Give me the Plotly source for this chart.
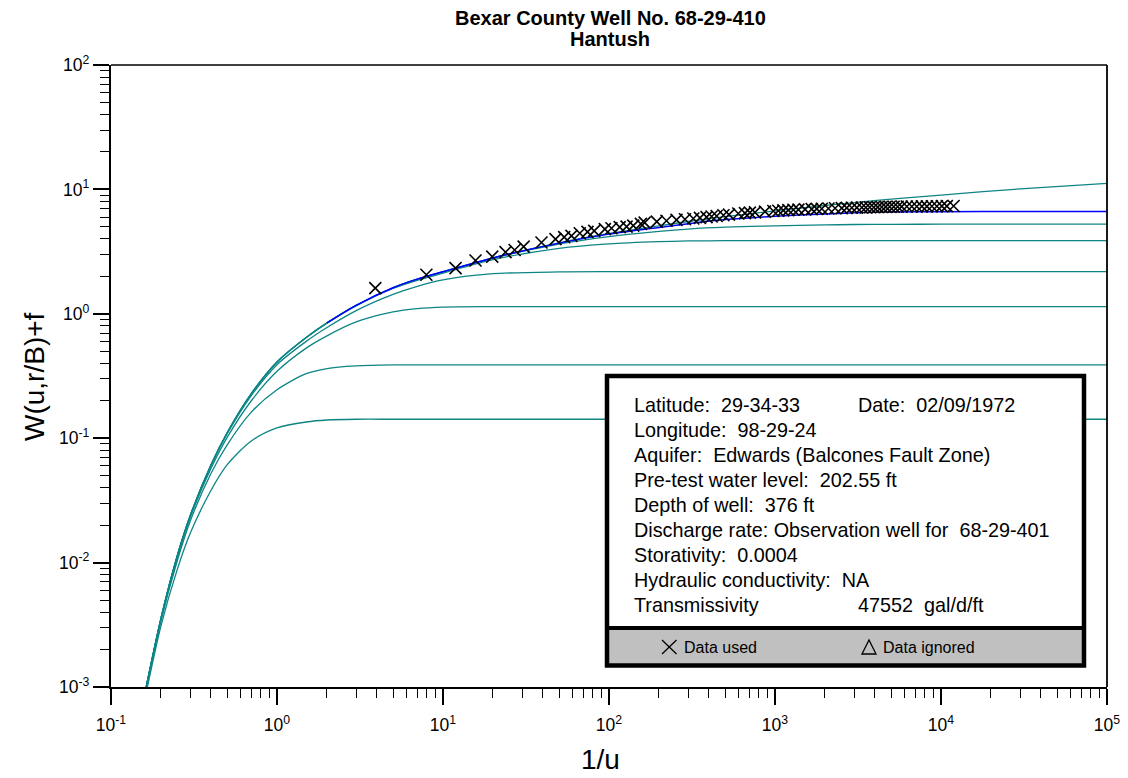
import plotly.graph_objects as go

# ---------------- data ----------------
X_GRID = [0.163, 0.2, 0.25, 0.3, 0.4, 0.5, 0.7, 1, 1.5, 2, 3, 5, 7, 10, 20, 50, 100, 200,
          300, 500, 1000, 2000, 3000, 5000, 10000, 30000, 100000]

W_THEIS = [0.001, 0.00356, 0.0112, 0.0238, 0.061, 0.11, 0.228, 0.41, 0.645, 0.845, 1.17, 1.62, 1.9,
           2.18, 2.82, 3.72, 4.42, 5.1, 5.52, 6.03, 6.72, 7.42, 7.83, 8.35, 9.0, 10.1, 11.2]
W_RB_B = [0.001, 0.00356, 0.0112, 0.0238, 0.061, 0.11, 0.228, 0.41, 0.645, 0.845, 1.17, 1.62, 1.9,
          2.17, 2.8, 3.64, 4.18, 4.6, 4.8, 4.97, 5.1, 5.18, 5.22, 5.24, 5.25, 5.25, 5.25]
W_RB_C = [0.001, 0.00356, 0.0112, 0.0238, 0.061, 0.11, 0.228, 0.41, 0.645, 0.84, 1.16, 1.6, 1.86,
          2.12, 2.72, 3.36, 3.65, 3.8, 3.85, 3.87, 3.88, 3.88, 3.88, 3.88, 3.88, 3.88, 3.88]
W_RB_D = [0.001, 0.00355, 0.0111, 0.0236, 0.06, 0.108, 0.22, 0.39, 0.6, 0.775, 1.06, 1.43, 1.66,
          1.87, 2.1, 2.17, 2.18, 2.18, 2.18, 2.18, 2.18, 2.18, 2.18, 2.18, 2.18, 2.18, 2.18]
W_RB_E = [0.001, 0.0035, 0.0108, 0.023, 0.057, 0.101, 0.2, 0.345, 0.53, 0.665, 0.86, 1.035, 1.1,
          1.133, 1.143, 1.143, 1.143, 1.143, 1.143, 1.143, 1.143, 1.143, 1.143, 1.143, 1.143, 1.143, 1.143]
W_RB_F = [0.00095, 0.0034, 0.0102, 0.0215, 0.052, 0.088, 0.162, 0.245, 0.33, 0.363, 0.381, 0.388, 0.389,
          0.389, 0.389, 0.389, 0.389, 0.389, 0.389, 0.389, 0.389, 0.389, 0.389, 0.389, 0.389, 0.389, 0.389]
W_RB_G = [0.0009, 0.0031, 0.0087, 0.0172, 0.038, 0.061, 0.095, 0.121, 0.135, 0.14, 0.142, 0.142, 0.142,
          0.142, 0.142, 0.142, 0.142, 0.142, 0.142, 0.142, 0.142, 0.142, 0.142, 0.142, 0.142, 0.142, 0.142]

# match curve (blue), drawn from 1/u = 2 onward
X_MATCH = [2, 3, 5, 7, 10, 20, 50, 100, 200, 300, 500, 1000, 2000, 3000, 5000, 10000, 30000, 100000]
W_MATCH = [0.845, 1.17, 1.62, 1.9, 2.18, 2.81, 3.7, 4.37, 4.95, 5.3, 5.72, 6.08, 6.35, 6.48, 6.58,
           6.62, 6.63, 6.63]

DATA_X = [3.91, 7.94, 11.9, 15.7, 19.8, 23.8, 27.0, 30.6, 39.2, 47.6, 53.7, 59.4, 66.7, 74.2, 81.5,
          94.4, 103.5, 116, 127.6, 140, 155.6,
          164, 194, 222, 255, 287, 322, 353, 387, 415, 445, 489, 528, 601, 659, 706, 757, 870, 977,
          1047, 1122, 1204, 1291, 1384, 1517, 1664, 1783, 1914, 2099, 2301, 2524, 2706, 2902, 3111,
          3334, 3524, 3724, 3936, 4159, 4396, 4645, 4909, 5188, 5483, 5794, 6222, 6669, 7146, 7669,
          8222, 8811, 9441, 10116, 10839, 11912]
DATA_W = [1.61, 2.06, 2.33, 2.68, 2.88, 3.13, 3.26, 3.47, 3.74, 3.98, 4.13, 4.23, 4.44, 4.55, 4.64,
          4.79, 4.87, 4.97, 5.02, 5.12, 5.28,
          5.41, 5.51, 5.60, 5.69, 5.76, 5.84, 5.90, 5.98, 6.05, 6.11, 6.20, 6.27, 6.40, 6.45, 6.50,
          6.54, 6.62, 6.70, 6.74, 6.78, 6.82, 6.86, 6.88, 6.91, 6.94, 6.97, 6.99, 7.02, 7.05, 7.08,
          7.10, 7.12, 7.13, 7.15, 7.16, 7.18, 7.19, 7.20, 7.22, 7.23, 7.25, 7.25, 7.26, 7.27, 7.28,
          7.28, 7.29, 7.30, 7.31, 7.32, 7.32, 7.33, 7.34, 7.35]

X_TICKS = [0.1, 1, 10, 100, 1000, 10000, 100000]
X_TICK_TEXT = ["10<sup>-1</sup>", "10<sup>0</sup>", "10<sup>1</sup>", "10<sup>2</sup>",
               "10<sup>3</sup>", "10<sup>4</sup>", "10<sup>5</sup>"]
Y_TICKS = [0.001, 0.01, 0.1, 1, 10, 100]
Y_TICK_TEXT = ["10<sup>-3</sup>", "10<sup>-2</sup>", "10<sup>-1</sup>", "10<sup>0</sup>",
               "10<sup>1</sup>", "10<sup>2</sup>"]

TITLE_1 = "Bexar County Well No. 68-29-410"
TITLE_2 = "Hantush"
X_TITLE = "1/u"
Y_TITLE = "W(u,r/B)+f"
INFO_LEFT = ["Latitude:  29-34-33", "Longitude:  98-29-24", "Aquifer:  Edwards (Balcones Fault Zone)",
             "Pre-test water level:  202.55 ft", "Depth of well:  376 ft",
             "Discharge rate: Observation well for  68-29-401", "Storativity:  0.0004",
             "Hydraulic conductivity:  NA", "Transmissivity"]
INFO_DATE = "Date:  02/09/1972"
INFO_T = "47552  gal/d/ft"
LEG_USED = "Data used"
LEG_IGN = "Data ignored"

# ---------------- layout geometry (pixels) ----------------
W, H = 1128, 778
L, R, T, B = 111, 21, 65, 91
PX0, PX1, PY0, PY1 = L, W - R, T, H - B
FONT = "Arial, Liberation Sans, sans-serif"


def fx(x):
    return (x - PX0) / (PX1 - PX0)


def fy(y):
    return (PY1 - y) / (PY1 - PY0)


TEAL = "#0e8585"
BLUE = "#0000ff"

fig = go.Figure()
for vals in [W_THEIS, W_RB_B, W_RB_C, W_RB_D, W_RB_E, W_RB_F, W_RB_G]:
    fig.add_trace(go.Scatter(x=X_GRID, y=vals, mode="lines",
                             line=dict(color=TEAL, width=1.3, shape="spline", smoothing=0.8),
                             showlegend=False, hoverinfo="skip"))
fig.add_trace(go.Scatter(x=X_MATCH, y=W_MATCH, mode="lines",
                         line=dict(color=BLUE, width=1.5, shape="spline", smoothing=0.8),
                         showlegend=False, hoverinfo="skip"))
fig.add_trace(go.Scatter(x=DATA_X, y=DATA_W, mode="markers",
                         marker=dict(symbol="x-thin", size=12, color="black",
                                     line=dict(width=1.6, color="black")),
                         showlegend=False))

minor_x = [m * 10 ** e for e in range(-1, 5) for m in range(2, 10)]
minor_y = [m * 10 ** e for e in range(-3, 2) for m in range(2, 10)]

fig.update_xaxes(type="log", range=[-1, 5], tickmode="array", tickvals=X_TICKS, ticktext=X_TICK_TEXT,
                 ticks="outside", ticklen=16, tickwidth=2, tickcolor="black", ticklabelstandoff=5,
                 minor=dict(tickmode="array", tickvals=minor_x, ticks="outside", ticklen=9,
                            tickwidth=1.3, tickcolor="black", showgrid=False),
                 showline=True, linewidth=2.2, linecolor="black", showgrid=False, zeroline=False,
                 tickfont=dict(family=FONT, size=17.5, color="black"))
fig.update_yaxes(type="log", range=[-3, 2], tickmode="array", tickvals=Y_TICKS, ticktext=Y_TICK_TEXT,
                 ticks="outside", ticklen=16, tickwidth=2, tickcolor="black",
                 minor=dict(tickmode="array", tickvals=minor_y, ticks="outside", ticklen=9,
                            tickwidth=1.3, tickcolor="black", showgrid=False),
                 showline=True, linewidth=2.2, linecolor="black", showgrid=False, zeroline=False,
                 tickfont=dict(family=FONT, size=17.5, color="black"))

shapes = [
    dict(type="line", xref="paper", yref="paper", x0=0, x1=1, y0=1, y1=1,
         line=dict(color="black", width=1.6)),
    dict(type="line", xref="paper", yref="paper", x0=1, x1=1, y0=0, y1=1,
         line=dict(color="black", width=1.8)),
    # info box
    dict(type="rect", xref="paper", yref="paper", x0=fx(607), x1=fx(1084), y0=fy(628), y1=fy(376),
         fillcolor="white", line=dict(width=0), layer="above"),
    dict(type="rect", xref="paper", yref="paper", x0=fx(607), x1=fx(1084), y0=fy(665.5), y1=fy(628),
         fillcolor="#c0c0c0", line=dict(width=0), layer="above"),
    dict(type="rect", xref="paper", yref="paper", x0=fx(607), x1=fx(1084), y0=fy(665.5), y1=fy(376),
         fillcolor="rgba(0,0,0,0)", line=dict(color="black", width=4.5), layer="above"),
    dict(type="line", xref="paper", yref="paper", x0=fx(607), x1=fx(1084), y0=fy(628), y1=fy(628),
         line=dict(color="black", width=4), layer="above"),
    # legend symbols
    dict(type="line", xref="paper", yref="paper", x0=fx(662), x1=fx(676.5), y0=fy(640), y1=fy(654),
         line=dict(color="black", width=1.3), layer="above"),
    dict(type="line", xref="paper", yref="paper", x0=fx(662), x1=fx(676.5), y0=fy(654), y1=fy(640),
         line=dict(color="black", width=1.3), layer="above"),
    dict(type="path", xref="paper", yref="paper",
         path=f"M {fx(862)},{fy(654)} L {fx(869)},{fy(640)} L {fx(876)},{fy(654)} Z",
         line=dict(color="black", width=1.3), fillcolor="rgba(0,0,0,0)", layer="above"),
]

ann = [
    dict(text=f"<b>{TITLE_1}</b>", x=fx(610), y=fy(17.5), font=dict(size=20)),
    dict(text=f"<b>{TITLE_2}</b>", x=fx(610), y=fy(39.5), font=dict(size=20)),
    dict(text=X_TITLE, x=fx(600), y=fy(759), font=dict(size=28)),
    dict(text=Y_TITLE, x=fx(34), y=fy(377), textangle=-90, font=dict(size=28)),
]
line_y = [405, 430, 455, 480, 505, 530, 554.5, 579.5, 604.5]
for txt, yy in zip(INFO_LEFT, line_y):
    ann.append(dict(text=txt, x=fx(632), y=fy(yy), xanchor="left", font=dict(size=19.8)))
ann.append(dict(text=INFO_DATE, x=fx(855.5), y=fy(405), xanchor="left", font=dict(size=19.8)))
ann.append(dict(text=INFO_T, x=fx(855.5), y=fy(604.5), xanchor="left", font=dict(size=19.8)))
ann.append(dict(text=LEG_USED, x=fx(681.5), y=fy(647.5), xanchor="left", font=dict(size=16)))
ann.append(dict(text=LEG_IGN, x=fx(881), y=fy(647.5), xanchor="left", font=dict(size=16)))

annotations = []
for a in ann:
    base = dict(xref="paper", yref="paper", showarrow=False, xanchor="center", yanchor="middle")
    base.update(a)
    f = dict(family=FONT, color="black")
    f.update(a["font"])
    base["font"] = f
    annotations.append(base)

fig.update_layout(width=W, height=H, margin=dict(l=L, r=R, t=T, b=B, autoexpand=False),
                  plot_bgcolor="white", paper_bgcolor="white", showlegend=False,
                  shapes=shapes, annotations=annotations)

fig.write_html("out.html", config={"displayModeBar": False},
               post_script="document.body.style.margin='0px';document.body.style.overflow='hidden';")
